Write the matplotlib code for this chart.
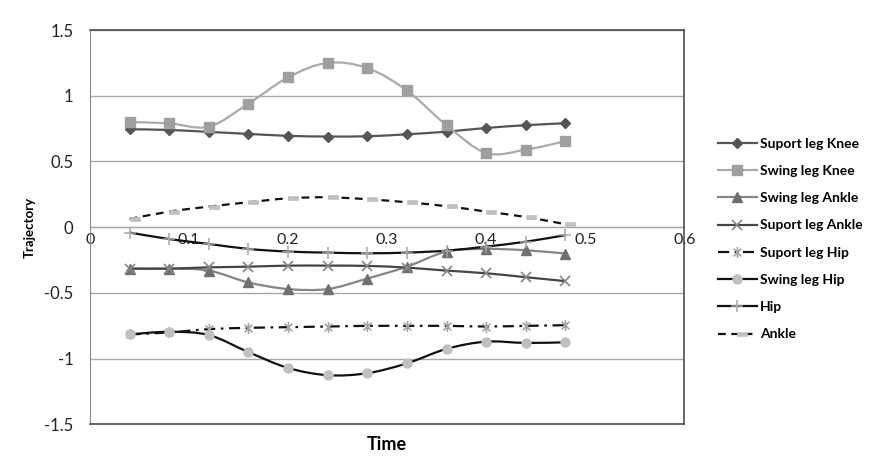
import numpy as np
import matplotlib
matplotlib.use("Agg")
import matplotlib.pyplot as plt
from matplotlib.path import Path
from matplotlib.patches import PathPatch
from matplotlib.lines import Line2D

plt.rcParams['font.family'] = ['Lato', 'DejaVu Sans']

# data
time = [0.04, 0.08, 0.12, 0.16, 0.20, 0.24, 0.28, 0.32, 0.36, 0.40, 0.44, 0.48]

suport_knee = [0.745, 0.74, 0.725, 0.71, 0.695, 0.69, 0.692, 0.707, 0.727, 0.755, 0.776, 0.791]
swing_knee = [0.80, 0.79, 0.765, 0.94, 1.14, 1.25, 1.21, 1.04, 0.775, 0.565, 0.59, 0.655]
swing_ankle = [-0.315, -0.315, -0.33, -0.42, -0.47, -0.47, -0.39, -0.30, -0.185, -0.165, -0.175, -0.20]
suport_ankle = [-0.315, -0.315, -0.305, -0.30, -0.292, -0.292, -0.294, -0.307, -0.33, -0.35, -0.38, -0.41]
suport_hip = [-0.815, -0.80, -0.775, -0.765, -0.76, -0.755, -0.75, -0.75, -0.75, -0.755, -0.75, -0.745]
swing_hip = [-0.815, -0.795, -0.82, -0.95, -1.07, -1.125, -1.11, -1.035, -0.925, -0.87, -0.88, -0.875]
hip = [-0.04, -0.09, -0.127, -0.165, -0.185, -0.193, -0.198, -0.193, -0.178, -0.147, -0.11, -0.06]
ankle = [0.063, 0.119, 0.157, 0.19, 0.22, 0.228, 0.213, 0.19, 0.16, 0.119, 0.078, 0.023]

x_ticks = [0, 0.1, 0.2, 0.3, 0.4, 0.5, 0.6]
x_tick_labels = ['0', '0.1', '0.2', '0.3', '0.4', '0.5', '0.6']
y_ticks = [-1.5, -1, -0.5, 0, 0.5, 1, 1.5]
y_tick_labels = ['-1.5', '-1', '-0.5', '0', '0.5', '1', '1.5']


def smooth_path(xs, ys):
    # Excel-style smoothed line: cubic bezier through each point
    pts = np.column_stack([xs, ys])
    n = len(pts)
    verts = [pts[0]]
    codes = [Path.MOVETO]
    for i in range(n - 1):
        p0 = pts[max(i - 1, 0)]
        p1 = pts[i]
        p2 = pts[i + 1]
        p3 = pts[min(i + 2, n - 1)]
        verts += [p1 + (p2 - p0) / 6, p2 - (p3 - p1) / 6, p2]
        codes += [Path.CURVE4] * 3
    return Path(verts, codes)


# custom markers
star = Path([(0, -1), (0, 1), (-0.7, -0.7), (0.7, 0.7), (-0.7, 0.7), (0.7, -0.7)],
            [Path.MOVETO, Path.LINETO] * 3)
dash = Path([(0, -0.25), (1, -0.25), (1, 0.25), (0, 0.25), (0, -0.25)],
            [Path.MOVETO, Path.LINETO, Path.LINETO, Path.LINETO, Path.CLOSEPOLY])

series = [
    ("Suport leg Knee", suport_knee, '#555555', '-', dict(marker='D', ms=5.5, mfc='#555555', mec='#555555')),
    ("Swing leg Knee", swing_knee, '#AAAAAA', '-', dict(marker='s', ms=6.5, mfc='#9F9F9F', mec='#9F9F9F')),
    ("Swing leg Ankle", swing_ankle, '#858585', '-', dict(marker='^', ms=7, mfc='#707070', mec='#707070')),
    ("Suport leg Ankle", suport_ankle, '#454545', '-', dict(marker='x', ms=7.5, mfc='none', mec='#858585', mew=1.2)),
    ("Suport leg Hip", suport_hip, '#111111', (0, (5, 2.5, 1.2, 2.5)), dict(marker=star, ms=8, mfc='none', mec='#A5A5A5', mew=1.2)),
    ("Swing leg Hip", swing_hip, '#111111', '-', dict(marker='o', ms=6.5, mfc='#C0C0C0', mec='#C0C0C0')),
    ("Hip", hip, '#111111', '-', dict(marker='+', ms=8, mfc='none', mec='#A5A5A5', mew=1.1)),
    ("Ankle", ankle, '#111111', (0, (3.5, 2.5)), dict(marker=dash, ms=14, mfc='#C0C0C0', mec='#C0C0C0', mew=0.5)),
]

fig = plt.figure(figsize=(8.8, 4.63), dpi=100)
ax = fig.add_axes([0.1023, 0.0832, 0.6753, 0.852])

ax.set_xlim(0, 0.6)
ax.set_ylim(-1.5, 1.5)
ax.set_yticks(y_ticks)
ax.set_yticklabels(y_tick_labels)
ax.yaxis.grid(True, color='#A8A8A8', lw=1)
ax.set_axisbelow(True)
ax.tick_params(axis='y', length=0, pad=12, labelsize=12, labelcolor='#222222')
ax.set_xticks(x_ticks)
ax.tick_params(axis='x', length=0, labelbottom=False)

for side in ['top', 'right', 'bottom']:
    ax.spines[side].set_color('#404040')
    ax.spines[side].set_linewidth(1.1)
ax.spines['left'].set_color('#8A8A8A')

# x axis crossing at y = 0
sec = ax.secondary_xaxis(0.5)
sec.set_alignment('bottom')
sec.set_xticks(x_ticks)
sec.set_xticklabels(x_tick_labels)
sec.tick_params(length=0, pad=4, labelsize=11.5, labelcolor='#222222')
sec.spines['bottom'].set_color('#8A8A8A')
sec.spines['top'].set_visible(False)

handles = []
for name, vals, col, ls, mk in series:
    ax.add_patch(PathPatch(smooth_path(time, vals), fill=False, edgecolor=col,
                           lw=1.6, linestyle=ls, zorder=2))
    ax.plot(time, vals, linestyle='none', zorder=3, **mk)
    handles.append(Line2D([], [], color=col, lw=1.6, linestyle=ls, **mk))

ax.set_xlabel("Time", fontsize=13, fontweight='bold', labelpad=8)
ax.set_ylabel("Trajectory", fontsize=9.5, fontweight='bold', labelpad=6)

fig.legend(handles, [s[0] for s in series], loc='center left',
           bbox_to_anchor=(0.8156, 0.4838), frameon=False, borderpad=0,
           borderaxespad=0, handlelength=2.8, handletextpad=0.25,
           labelspacing=1.1, prop={'size': 10, 'weight': 'bold'}, numpoints=1)

fig.savefig("out.png", dpi=100)
